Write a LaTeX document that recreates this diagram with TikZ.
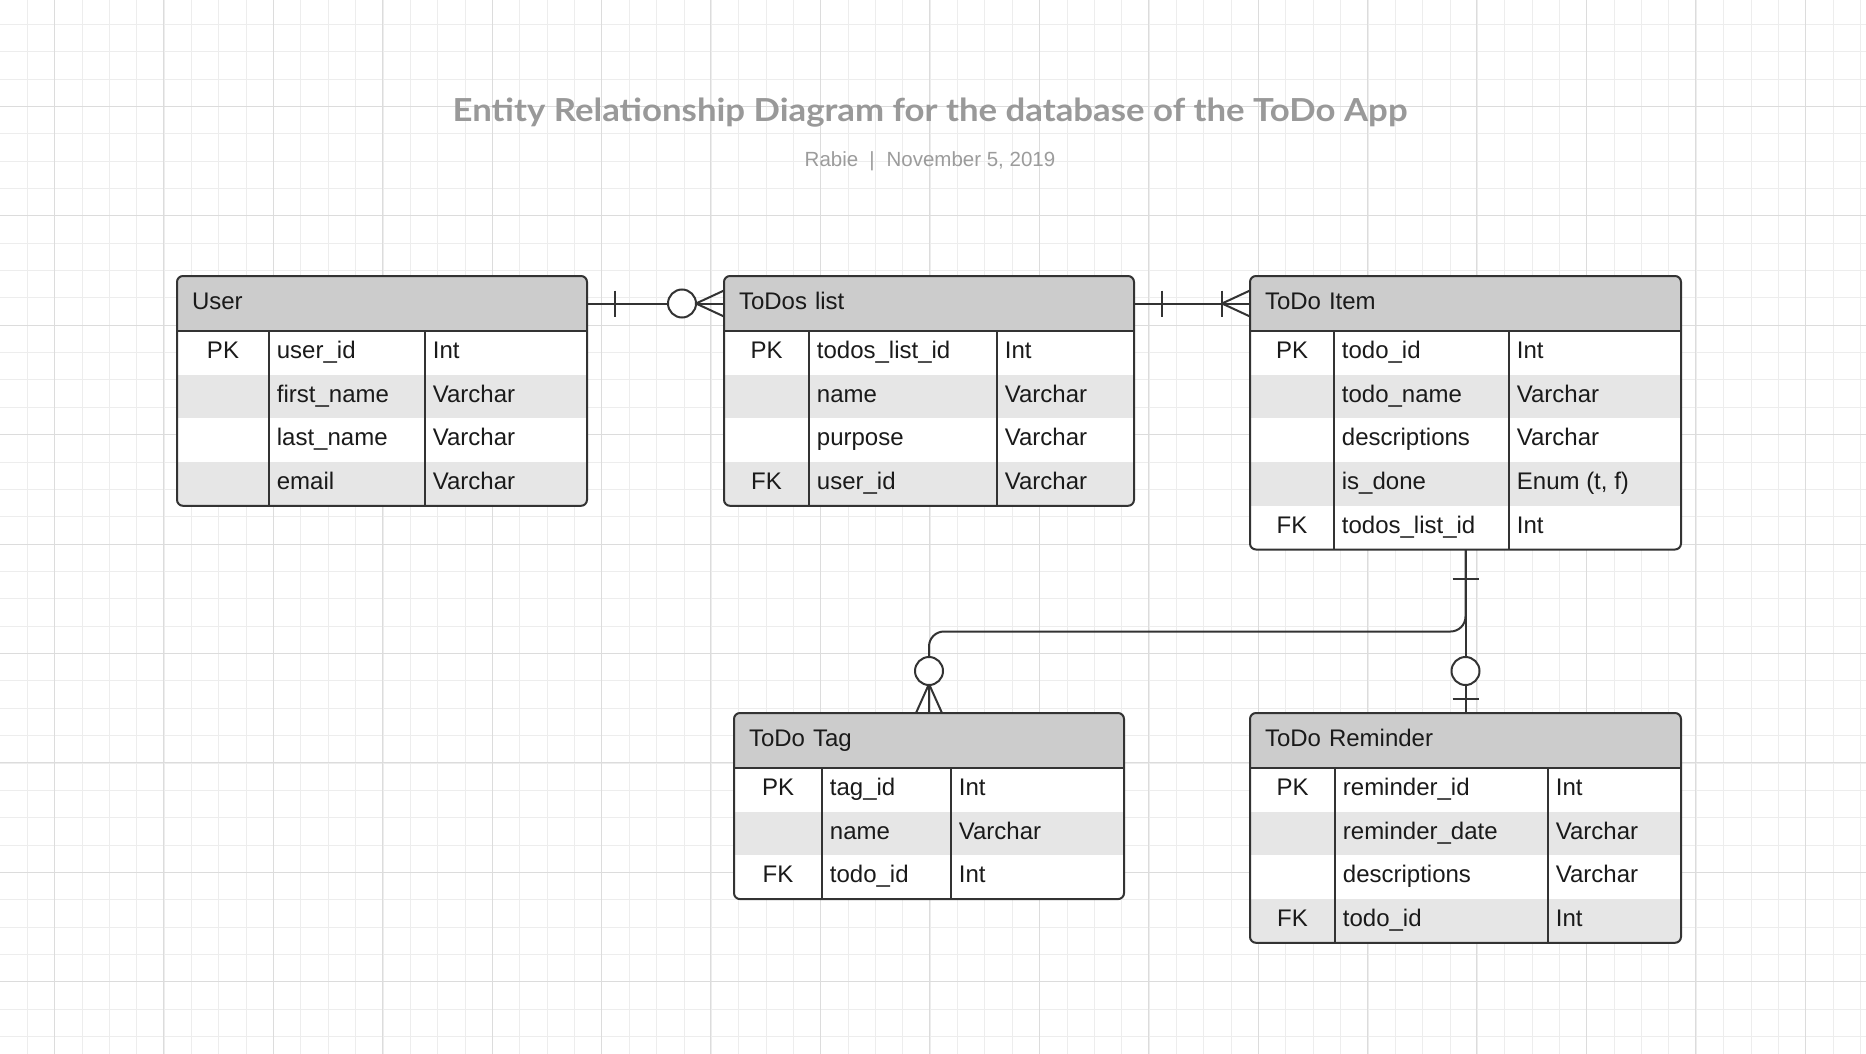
\documentclass[tikz,border=0pt]{standalone}
\usepackage{fontspec}
\setmainfont{Liberation Sans}
\newfontfamily\titlefont{Lato}
\usepackage{tikz}

\definecolor{gridminor}{HTML}{EDEDED}
\definecolor{gridmajor}{HTML}{DCDCDC}
\definecolor{headgray}{HTML}{CCCCCC}
\definecolor{rowgray}{HTML}{E6E6E6}
\definecolor{framegray}{HTML}{333333}
\definecolor{inkgray}{HTML}{1A1A1A}
\definecolor{titlegray}{HTML}{999999}
\definecolor{bylinegray}{HTML}{9C9C9C}

\begin{document}
\begin{tikzpicture}[x=1pt, y=-1pt,
    font=\fontsize{24}{28}\selectfont, text=inkgray,
    headcell/.style={anchor=north west, fill=headgray, minimum height=55, inner xsep=15, inner ysep=0, outer sep=0, align=left, text height=17, text depth=6},
    bodycell/.style={anchor=north west, fill=white, inner sep=0, outer sep=0},
    keytext/.style={inner sep=0, text height=17, text depth=6},
    celltext/.style={anchor=west, inner sep=0, text height=17, text depth=6},
    frame/.style={draw=framegray, line width=2, rounded corners=6},
    rule/.style={draw=framegray, line width=1.8},
    link/.style={draw=framegray, line width=2}]

    \useasboundingbox (0,0) rectangle (1866,1054);
    \fill[white] (0,0) rectangle (1866,1054);

    \foreach \i in {1,...,68}
      \draw[gridminor, line width=1] ({\i*27.36},0) -- ({\i*27.36},1054);
    \foreach \i in {0,...,37}
      \draw[gridminor, line width=1] (0,{24.3+\i*27.36}) -- (1866,{24.3+\i*27.36});
    \foreach \i in {0,...,16}
      \draw[gridmajor, line width=1] ({54.3+\i*109.43},0) -- ({54.3+\i*109.43},1054);
    \foreach \i in {0,...,8}
      \draw[gridmajor, line width=1] (0,{106.3+\i*109.43}) -- (1866,{106.3+\i*109.43});

    \node[anchor=base, text=titlegray, font=\titlefont\bfseries\fontsize{31.7}{36}\selectfont] (title) at (930,121.5) {\scalebox{1.097}[1]{Entity Relationship Diagram for the database of the ToDo App}};
    \node[anchor=base, text=bylinegray, font=\fontsize{20.5}{24}\selectfont] (byline) at (930,166.7) {Rabie\hspace{11pt}|\hspace{12pt}November 5, 2019};



    \begin{scope}[shift={(177,276)}]
      \clip[rounded corners=6] (0,0) rectangle (410,229.8);
      \node[headcell, text width=380] (user) at (0,0) {User};
      \node[bodycell, minimum width=410, minimum height=174.8] (user-body) at (0,55) {};
      \foreach \key/\field/\kind [count=\i] in {PK/user\_id/Int, /first\_name/Varchar, /last\_name/Varchar, /email/Varchar} {
        \ifodd\i\else\fill[rowgray] (0,{55+(\i-1)*43.7}) rectangle (410,{55+\i*43.7});\fi
        \node[keytext] (user-key-\i) at (46,{55+(\i-0.5)*43.7}) {\key};
        \node[celltext] (user-field-\i) at (99.7,{55+(\i-0.5)*43.7}) {\field};
        \node[celltext] (user-kind-\i) at (255.7,{55+(\i-0.5)*43.7}) {\kind};
      }
    \end{scope}
    \draw[rule] (user.south west) -- (user.south east);
    \draw[rule] ([xshift=92]user.south west) -- ([xshift=92]user-body.south west);
    \draw[rule] ([xshift=248]user.south west) -- ([xshift=248]user-body.south west);
    \draw[frame] (user.north west) rectangle (user-body.south east);



    \begin{scope}[shift={(724,276)}]
      \clip[rounded corners=6] (0,0) rectangle (410,229.8);
      \node[headcell, text width=380] (list) at (0,0) {ToDos list};
      \node[bodycell, minimum width=410, minimum height=174.8] (list-body) at (0,55) {};
      \foreach \key/\field/\kind [count=\i] in {PK/todos\_list\_id/Int, /name/Varchar, /purpose/Varchar, FK/user\_id/Varchar} {
        \ifodd\i\else\fill[rowgray] (0,{55+(\i-1)*43.7}) rectangle (410,{55+\i*43.7});\fi
        \node[keytext] (list-key-\i) at (42.5,{55+(\i-0.5)*43.7}) {\key};
        \node[celltext] (list-field-\i) at (92.7,{55+(\i-0.5)*43.7}) {\field};
        \node[celltext] (list-kind-\i) at (280.7,{55+(\i-0.5)*43.7}) {\kind};
      }
    \end{scope}
    \draw[rule] (list.south west) -- (list.south east);
    \draw[rule] ([xshift=85]list.south west) -- ([xshift=85]list-body.south west);
    \draw[rule] ([xshift=273]list.south west) -- ([xshift=273]list-body.south west);
    \draw[frame] (list.north west) rectangle (list-body.south east);



    \begin{scope}[shift={(1250,276)}]
      \clip[rounded corners=6] (0,0) rectangle (431,273.5);
      \node[headcell, text width=401] (item) at (0,0) {ToDo Item};
      \node[bodycell, minimum width=431, minimum height=218.5] (item-body) at (0,55) {};
      \foreach \key/\field/\kind [count=\i] in {PK/todo\_id/Int, /todo\_name/Varchar, /descriptions/Varchar, /is\_done/{Enum (t, f)}, FK/todos\_list\_id/Int} {
        \ifodd\i\else\fill[rowgray] (0,{55+(\i-1)*43.7}) rectangle (431,{55+\i*43.7});\fi
        \node[keytext] (item-key-\i) at (42,{55+(\i-0.5)*43.7}) {\key};
        \node[celltext] (item-field-\i) at (91.7,{55+(\i-0.5)*43.7}) {\field};
        \node[celltext] (item-kind-\i) at (266.7,{55+(\i-0.5)*43.7}) {\kind};
      }
    \end{scope}
    \draw[rule] (item.south west) -- (item.south east);
    \draw[rule] ([xshift=84]item.south west) -- ([xshift=84]item-body.south west);
    \draw[rule] ([xshift=259]item.south west) -- ([xshift=259]item-body.south west);
    \draw[frame] (item.north west) rectangle (item-body.south east);



    \begin{scope}[shift={(734,713)}]
      \clip[rounded corners=6] (0,0) rectangle (390,186.1);
      \node[headcell, text width=360] (tag) at (0,0) {ToDo Tag};
      \node[bodycell, minimum width=390, minimum height=131.1] (tag-body) at (0,55) {};
      \foreach \key/\field/\kind [count=\i] in {PK/tag\_id/Int, /name/Varchar, FK/todo\_id/Int} {
        \ifodd\i\else\fill[rowgray] (0,{55+(\i-1)*43.7}) rectangle (390,{55+\i*43.7});\fi
        \node[keytext] (tag-key-\i) at (44,{55+(\i-0.5)*43.7}) {\key};
        \node[celltext] (tag-field-\i) at (95.7,{55+(\i-0.5)*43.7}) {\field};
        \node[celltext] (tag-kind-\i) at (224.7,{55+(\i-0.5)*43.7}) {\kind};
      }
    \end{scope}
    \draw[rule] (tag.south west) -- (tag.south east);
    \draw[rule] ([xshift=88]tag.south west) -- ([xshift=88]tag-body.south west);
    \draw[rule] ([xshift=217]tag.south west) -- ([xshift=217]tag-body.south west);
    \draw[frame] (tag.north west) rectangle (tag-body.south east);



    \begin{scope}[shift={(1250,713)}]
      \clip[rounded corners=6] (0,0) rectangle (431,229.8);
      \node[headcell, text width=401] (reminder) at (0,0) {ToDo Reminder};
      \node[bodycell, minimum width=431, minimum height=174.8] (reminder-body) at (0,55) {};
      \foreach \key/\field/\kind [count=\i] in {PK/reminder\_id/Int, /reminder\_date/Varchar, /descriptions/Varchar, FK/todo\_id/Int} {
        \ifodd\i\else\fill[rowgray] (0,{55+(\i-1)*43.7}) rectangle (431,{55+\i*43.7});\fi
        \node[keytext] (reminder-key-\i) at (42.5,{55+(\i-0.5)*43.7}) {\key};
        \node[celltext] (reminder-field-\i) at (92.7,{55+(\i-0.5)*43.7}) {\field};
        \node[celltext] (reminder-kind-\i) at (305.7,{55+(\i-0.5)*43.7}) {\kind};
      }
    \end{scope}
    \draw[rule] (reminder.south west) -- (reminder.south east);
    \draw[rule] ([xshift=85]reminder.south west) -- ([xshift=85]reminder-body.south west);
    \draw[rule] ([xshift=298]reminder.south west) -- ([xshift=298]reminder-body.south west);
    \draw[frame] (reminder.north west) rectangle (reminder-body.south east);



    \draw[link] (user.east) -- (list.west);
    \draw[link] ([xshift=28]user.east) ++(0,-13) -- ++(0,26);
    \draw[link] ([xshift=-28]list.west) -- ([yshift=13]list.west);
    \draw[link] ([xshift=-28]list.west) -- ([yshift=-13]list.west);
    \draw[link, fill=white] ([xshift=-42]list.west) circle [radius=14];

    \draw[link] (list.east) -- (item.west);
    \draw[link] ([xshift=28]list.east) ++(0,-13) -- ++(0,26);
    \draw[link] ([xshift=-28]item.west) ++(0,-13) -- ++(0,26);
    \draw[link] ([xshift=-28]item.west) -- ([yshift=13]item.west);
    \draw[link] ([xshift=-28]item.west) -- ([yshift=-13]item.west);

    \draw[link] (item-body.south) -- (reminder.north);
    \draw[link, rounded corners=15] (item-body.south) -- ++(0,82) -| (tag.north);
    \draw[link] ([yshift=-29]item-body.south) ++(-13,0) -- ++(26,0);
    \draw[link] ([yshift=14]reminder.north) ++(-13,0) -- ++(26,0);
    \draw[link, fill=white] ([yshift=42]reminder.north) circle [radius=14];
    \draw[link] ([yshift=29]tag.north) -- ([xshift=-13]tag.north);
    \draw[link] ([yshift=29]tag.north) -- ([xshift=13]tag.north);
    \draw[link, fill=white] ([yshift=42]tag.north) circle [radius=14];

  \end{tikzpicture}
\end{document}
